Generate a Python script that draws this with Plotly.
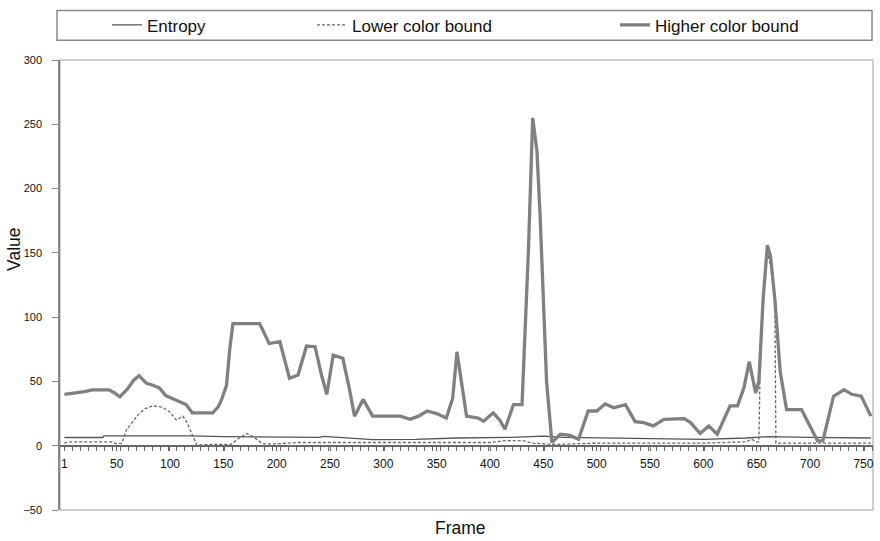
import plotly.graph_objects as go

# ---- data ----
high_frames = [1, 10, 20, 27, 43, 48, 53, 60, 66, 71, 78, 84, 90, 96, 105, 115, 121, 130, 140, 145, 148,
               153, 156, 159, 170, 184, 193, 203, 212, 220, 228, 236, 242, 247, 253, 262, 268, 273, 281,
               290, 300, 316, 325, 333, 341, 350, 359, 365, 369, 373, 378, 389, 394, 403, 409, 414, 422,
               430, 436, 440, 444, 447, 453, 458, 466, 475, 483, 492, 500, 508, 516, 527, 536, 544, 553,
               563, 575, 582, 588, 597, 605, 613, 625, 632, 638, 643, 649, 652, 656, 660, 663, 667, 672,
               678, 692, 700, 707, 712, 722, 732, 739, 748, 757]
high_vals = [40, 41, 42, 43.5, 43.5, 41, 38, 44, 51, 54.5, 48.5, 47, 45, 39, 36, 32, 25.6, 25.6, 25.6, 30,
             35, 47, 75, 95, 95, 95, 79.5, 81, 52.5, 55, 77.5, 77, 55, 40, 70.5, 68, 45, 23, 36,
             23, 23, 23, 20.5, 23, 27, 25, 21.5, 37, 73, 50, 23, 21.5, 19, 25.6, 20, 12.8, 32,
             32, 152, 255, 229, 178, 50, 2.5, 9, 8, 5, 27, 27, 32.5, 29.5, 32, 18.7, 18, 15.4,
             20.5, 21, 21, 18, 9.5, 15.4, 9, 31, 31, 45, 65.4, 41, 50, 114, 156, 147, 114, 57.7,
             28, 28, 15, 3.8, 3.8, 38.5, 43.6, 40, 38.5, 23]

low_frames = [1, 5, 20, 45, 50, 55, 59, 65, 70, 77, 84, 93, 100, 106, 112, 116, 120, 125, 140, 157, 165,
              172, 178, 187, 200, 220, 300, 400, 415, 430, 440, 460, 500, 600, 640, 645, 650, 652, 653,
              656, 660, 663, 667, 668, 700, 757]
low_vals = [2, 3, 3, 3, 1.5, 2, 12, 19, 24, 29, 31, 30, 26, 20, 23, 18, 10, 0.5, 1, 1, 6,
            9.5, 7, 1.5, 1.5, 2.5, 2.5, 2.5, 4, 4, 2, 1, 2, 2, 3, 5, 3, 3, 50,
            114, 150, 140, 110, 2, 2, 2]

ent_frames = [1, 37, 38, 120, 150, 200, 240, 244, 260, 290, 330, 369, 420, 450, 470, 520, 560, 600,
              640, 660, 700, 757]
ent_vals = [6.4, 6.4, 7.7, 7.7, 7, 6.8, 6.5, 7.3, 6.5, 4.8, 5, 6, 6.5, 7.5, 6.5, 6, 5.5, 5, 6, 7, 6.5, 6]

x_tick_vals = [1, 50, 100, 150, 200, 250, 300, 350, 400, 450, 500, 550, 600, 650, 700, 750]
y_tick_vals = [-50, 0, 50, 100, 150, 200, 250, 300]

FONT = "Liberation Sans, Arial, sans-serif"

fig = go.Figure()
fig.add_trace(go.Scatter(x=ent_frames, y=ent_vals, mode="lines", name="Entropy", showlegend=True,
                         line=dict(color="#555555", width=1.3), legend="legend"))
fig.add_trace(go.Scatter(x=low_frames, y=low_vals, mode="lines", name="Lower color bound", showlegend=True,
                         line=dict(color="#666666", width=1.3, dash="3px,2px"), legend="legend2"))
fig.add_trace(go.Scatter(x=high_frames, y=high_vals, mode="lines", name="Higher color bound", showlegend=True,
                         line=dict(color="#808080", width=3.3), legend="legend3"))

leg_common = dict(orientation="h", yanchor="middle", y=1.077, xanchor="left",
                  font=dict(family=FONT, size=17, color="#111111"),
                  bgcolor="rgba(0,0,0,0)", borderwidth=0, itemwidth=30)
fig.update_layout(
    width=880, height=541,
    showlegend=True,
    margin=dict(l=60, r=7, t=55, b=31),
    paper_bgcolor="white", plot_bgcolor="white",
    font=dict(family=FONT, color="#111111"),
    legend=dict(x=0.0578, **leg_common),
    legend2=dict(x=0.31, **leg_common),
    legend3=dict(x=0.6827, **leg_common),
    xaxis=dict(range=[-3.1, 759], anchor="free", position=50 / 350,
               showline=True, linecolor="#666666", linewidth=1.5,
               showgrid=False, zeroline=False,
               tickmode="array", tickvals=x_tick_vals, ticktext=[str(v) for v in x_tick_vals],
               ticks="outside", ticklen=5, tickcolor="#666666", tickwidth=1,
               minor=dict(tickmode="linear", tick0=1, dtick=7.5, ticks="outside", ticklen=5,
                          tickcolor="#666666", tickwidth=1, showgrid=False),
               tickfont=dict(family=FONT, size=12, color="#111111"), ticklabelstandoff=2),
    yaxis=dict(range=[-50, 300], tickmode="array", tickvals=y_tick_vals,
               showline=True, linecolor="#888888", linewidth=1.5,
               showgrid=False, zeroline=False,
               ticks="outside", ticklen=6, tickcolor="#888888",
               tickfont=dict(family=FONT, size=11, color="#111111"), ticklabelstandoff=8),
    shapes=[
        dict(type="rect", xref="paper", yref="paper", x0=0, x1=1, y0=0, y1=1,
             line=dict(color="#c0c0c0", width=1.5), layer="below"),
        dict(type="rect", xref="paper", yref="paper", x0=-0.0037, x1=0.9988, y0=1.044, y1=1.110,
             line=dict(color="#8a8a8a", width=1.5)),
    ],
    annotations=[
        dict(text="Value", xref="paper", yref="paper", x=-46 / 813, y=(510 - 247) / 455,
             textangle=-90, showarrow=False, xanchor="center", yanchor="middle",
             font=dict(family=FONT, size=17.5, color="#111111")),
        dict(text="Frame", xref="paper", yref="paper", x=(460 - 60) / 813, y=-18 / 455,
             showarrow=False, xanchor="center", yanchor="middle",
             font=dict(family=FONT, size=17.5, color="#111111")),
    ],
)

fig.write_html("out.html", config={"displayModeBar": False},
               post_script="document.body.style.margin='0';document.body.style.padding='0';")
